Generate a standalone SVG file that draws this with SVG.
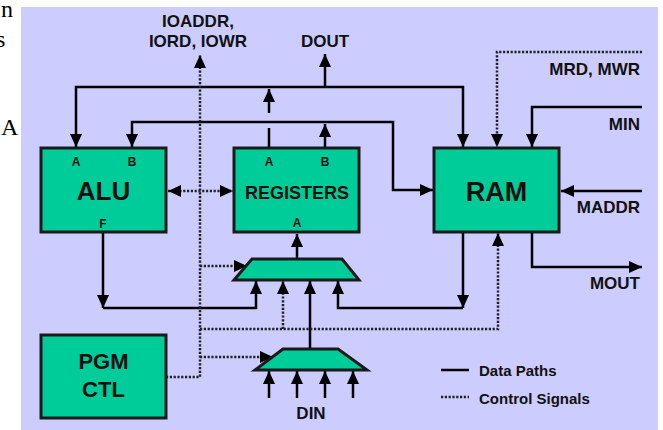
<svg xmlns="http://www.w3.org/2000/svg" width="663" height="430" viewBox="0 0 663 430">
<style>
.bg{fill:#CCCCFF}
.box{fill:#00CC99;stroke:#1a1a1a;stroke-width:3}
.d{fill:none;stroke:#000;stroke-width:2.5}
.c{fill:none;stroke:#222;stroke-width:2.5;stroke-dasharray:2.2 1.6}
.t{font-family:"Liberation Sans",Arial,sans-serif;font-weight:bold;fill:#111}
.lbl{font-size:17px}
.port{font-size:12px;text-anchor:middle}
.serif{font-family:"Liberation Serif","Times New Roman",serif;font-size:24px;fill:#000}
</style>
<defs>
<marker id="ah" markerUnits="userSpaceOnUse" markerWidth="14" markerHeight="12" refX="13" refY="6" orient="auto-start-reverse" viewBox="0 0 14 12">
<path d="M0,0 L13,6 L0,12 z" fill="#000"/>
</marker>
</defs>
<rect x="0" y="0" width="663" height="430" fill="#fff"/>
<text class="serif" x="1" y="17">n</text>
<text class="serif" x="-4" y="47">s</text>
<text class="serif" x="1" y="135">A</text>
<rect class="bg" x="21" y="7" width="637" height="423"/>

<g id="connectors">
<!-- data paths -->
<path class="d" d="M269,87 H76 V147" marker-end="url(#ah)"/>
<path class="d" d="M269,87 H463 V147" marker-end="url(#ah)"/>
<path class="d" d="M269,148 V128"/>
<path class="d" d="M269,113 V89" marker-end="url(#ah)"/>
<path class="d" d="M325,87 V54" marker-end="url(#ah)"/>
<path class="d" d="M325,148 V124" marker-end="url(#ah)"/>
<path class="d" d="M325,122 H132 V147" marker-end="url(#ah)"/>
<path class="d" d="M325,122 H393 V190 H433" marker-end="url(#ah)"/>
<path class="d" d="M642,191 H561" marker-end="url(#ah)"/>
<path class="d" d="M642,107 H532 V147" marker-end="url(#ah)"/>
<path class="d" d="M532,232 V267 H642" marker-end="url(#ah)"/>
<path class="d" d="M103,232 V308" marker-end="url(#ah)"/>
<path class="d" d="M103,308 H256 V281" marker-end="url(#ah)"/>
<path class="d" d="M463,232 V308" marker-end="url(#ah)"/>
<path class="d" d="M463,308 H338 V281" marker-end="url(#ah)"/>
<path class="d" d="M297,259 V234" marker-end="url(#ah)"/>
<path class="d" d="M310,349 V281" marker-end="url(#ah)"/>
<path class="d" d="M269,398 V371" marker-end="url(#ah)"/>
<path class="d" d="M297,398 V371" marker-end="url(#ah)"/>
<path class="d" d="M325,398 V371" marker-end="url(#ah)"/>
<path class="d" d="M353,398 V371" marker-end="url(#ah)"/>
<!-- control signals -->
<path class="c" d="M166,377 H200 V55" marker-end="url(#ah)"/>
<path class="c" d="M200,329 H498 V233" marker-end="url(#ah)"/>
<path class="c" d="M283,329 V281" marker-end="url(#ah)"/>
<path class="c" d="M200,357 H273" marker-end="url(#ah)"/>
<path class="c" d="M200,266 H247" marker-end="url(#ah)"/>
<path class="c" d="M168,191 H233" marker-start="url(#ah)" marker-end="url(#ah)"/>
<path class="c" d="M642,52 H497 V147" marker-end="url(#ah)"/>
</g>

<g id="alu">
<rect class="box" x="41" y="148" width="125" height="84"/>
<text class="t" x="103.5" y="200" font-size="26" text-anchor="middle">ALU</text>
<text class="t port" x="76" y="166">A</text>
<text class="t port" x="132" y="166">B</text>
<text class="t port" x="103" y="228">F</text>
</g>
<g id="registers">
<rect class="box" x="234" y="148" width="125" height="84"/>
<text class="t" x="297" y="199" font-size="18" text-anchor="middle">REGISTERS</text>
<text class="t port" x="269" y="166">A</text>
<text class="t port" x="325" y="166">B</text>
<text class="t port" x="297" y="227">A</text>
</g>
<g id="ram">
<rect class="box" x="434" y="148" width="125" height="84"/>
<text class="t" x="496.5" y="201" font-size="27" text-anchor="middle">RAM</text>
</g>
<g id="pgmctl">
<rect class="box" x="41" y="335" width="125" height="83"/>
<text class="t" x="103.5" y="369" font-size="22" text-anchor="middle">PGM</text>
<text class="t" x="103.5" y="397" font-size="22" text-anchor="middle">CTL</text>
</g>
<g id="mux1">
<polygon class="box" points="252,259 342,259 359,280 234,280"/>
</g>
<g id="mux2">
<polygon class="box" points="283,349 338,349 367,370 255,370"/>
</g>

<g id="labels">
<text class="t lbl" x="198" y="27" text-anchor="middle">IOADDR,</text>
<text class="t lbl" x="198" y="47" text-anchor="middle">IORD, IOWR</text>
<text class="t lbl" x="325" y="47" text-anchor="middle">DOUT</text>
<text class="t lbl" x="640" y="75" text-anchor="end">MRD, MWR</text>
<text class="t lbl" x="640" y="130" text-anchor="end">MIN</text>
<text class="t lbl" x="640" y="213" text-anchor="end">MADDR</text>
<text class="t lbl" x="640" y="289" text-anchor="end">MOUT</text>
<text class="t lbl" x="311" y="419" text-anchor="middle">DIN</text>
</g>

<g id="legend">
<path class="d" d="M441,370 H469"/>
<path class="c" d="M441,397 H469"/>
<text class="t" x="479" y="376" font-size="15">Data Paths</text>
<text class="t" x="479" y="404" font-size="15">Control Signals</text>
</g>
</svg>
